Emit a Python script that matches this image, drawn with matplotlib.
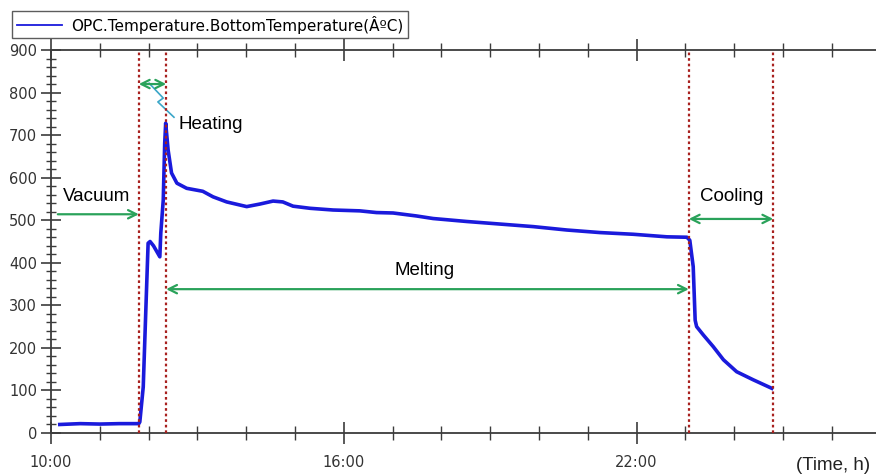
import matplotlib
matplotlib.use("Agg")
import matplotlib.pyplot as plt
from matplotlib.ticker import MultipleLocator, FixedLocator

# ---- data (hours since midnight, temperature in degC) ----
time_h = [10.18, 10.6, 11.0, 11.4, 11.80, 11.82, 11.89, 11.95, 11.99, 12.03, 12.10, 12.23,
          12.25, 12.30, 12.33, 12.35, 12.40, 12.47, 12.58, 12.78, 13.11, 13.32, 13.60,
          14.01, 14.28, 14.55, 14.75, 14.96, 15.31, 15.78, 16.33, 16.67, 17.01, 17.49,
          17.83, 18.52, 19.20, 19.88, 20.57, 21.25, 21.93, 22.62, 23.03, 23.09, 23.16,
          23.20, 23.23, 23.37, 23.57, 23.78, 24.05, 24.39, 24.77]
temp_c = [20, 22, 21, 22, 22, 26, 108, 312, 446, 450, 440, 414,
          470, 547, 681, 728, 665, 611, 587, 575, 568, 555, 543,
          532, 538, 545, 543, 533, 528, 524, 522, 518, 517, 510,
          504, 497, 491, 485, 477, 471, 467, 461, 460, 453, 391,
          265, 250, 230, 203, 172, 144, 125, 105]

phase_bounds = [11.80, 12.36, 23.07, 24.80]
major_x = [10, 16, 22]
major_x_labels = ["10:00", "16:00", "22:00"]
legend_label = "OPC.Temperature.BottomTemperature(\u00c2\u00baC)"

fig = plt.figure(figsize=(8.76, 4.74), dpi=100)
ax = fig.add_axes([51 / 876, 41 / 474, 825 / 876, 383 / 474])

line, = ax.plot(time_h, temp_c, color="#1a1adc", lw=2.6, solid_joinstyle="round")

for b in phase_bounds:
    ax.axvline(b, color="#a8201e", lw=1.6, ls=(0, (1.2, 1.3)), zorder=3)

ax.set_xlim(10, 10 + 825 / 48.8)
ax.set_ylim(0, 900)

ax.spines["right"].set_visible(False)
for s in ["left", "bottom", "top"]:
    ax.spines[s].set_color("#3c3c3c")
    ax.spines[s].set_linewidth(1.3)

ax.xaxis.set_major_locator(FixedLocator(major_x))
ax.set_xticklabels(major_x_labels)
ax.xaxis.set_minor_locator(MultipleLocator(1))
ax.yaxis.set_major_locator(MultipleLocator(100))
ax.yaxis.set_minor_locator(MultipleLocator(20))

tick_font = ["Liberation Sans Narrow", "DejaVu Sans"]
ax.tick_params(axis="x", which="major", direction="inout", length=16, width=1.2,
               color="#3c3c3c", top=True, labeltop=False, pad=8, labelsize=10.5,
               labelcolor="#333333")
ax.tick_params(axis="x", which="minor", direction="inout", length=10, width=1.0,
               color="#3c3c3c", top=True)
ax.tick_params(axis="y", which="major", direction="inout", length=14, width=1.2,
               color="#3c3c3c", pad=3, labelsize=10.5, labelcolor="#333333")
ax.tick_params(axis="y", which="minor", direction="inout", length=7, width=1.0,
               color="#3c3c3c")
for lab in ax.get_xticklabels() + ax.get_yticklabels():
    lab.set_fontfamily(tick_font)

green = "#2aa25a"
txt_font = ["Liberation Sans", "DejaVu Sans"]
fs = 13.5
arrow_kw = dict(arrowstyle="->", color=green, lw=1.6, mutation_scale=15,
                shrinkA=0, shrinkB=0)
dbl_kw = dict(arrowstyle="<->", color=green, lw=1.6, mutation_scale=15,
              shrinkA=0, shrinkB=0)

# Vacuum
ax.annotate("", xy=(phase_bounds[0], 514), xytext=(10.14, 514), arrowprops=arrow_kw)
ax.text(10.94, 555, "Vacuum", ha="center", va="center", fontsize=fs, family=txt_font)
# Heating
ax.annotate("", xy=(phase_bounds[0], 820), xytext=(phase_bounds[1], 820), arrowprops=dbl_kw)
ax.plot([12.01, 12.30, 12.19, 12.52], [822, 787, 778, 742], color="#3aa6c8", lw=1.2)
ax.text(12.62, 726, "Heating", ha="left", va="center", fontsize=fs, family=txt_font)
# Melting
ax.annotate("", xy=(phase_bounds[1], 338), xytext=(phase_bounds[2], 338), arrowprops=dbl_kw)
ax.text(17.66, 383, "Melting", ha="center", va="center", fontsize=fs, family=txt_font)
# Cooling
ax.annotate("", xy=(phase_bounds[2], 503), xytext=(phase_bounds[3], 503), arrowprops=dbl_kw)
ax.text(23.95, 555, "Cooling", ha="center", va="center", fontsize=fs, family=txt_font)

fig.text(870 / 876, 1 - 465 / 474, "(Time, h)", ha="right", va="center",
         fontsize=fs, family=txt_font, color="#222222")

leg = fig.legend([line], [legend_label], loc="upper left",
                 bbox_to_anchor=(12 / 876, 1 - 11 / 474), frameon=True,
                 fancybox=False, edgecolor="#333333", borderpad=0.3,
                 handlelength=3.0, handletextpad=0.6, borderaxespad=0,
                 prop={"family": tick_font, "size": 11})
leg.get_frame().set_linewidth(1.0)
leg.get_lines()[0].set_linewidth(1.3)

fig.savefig("out.png", dpi=100)
